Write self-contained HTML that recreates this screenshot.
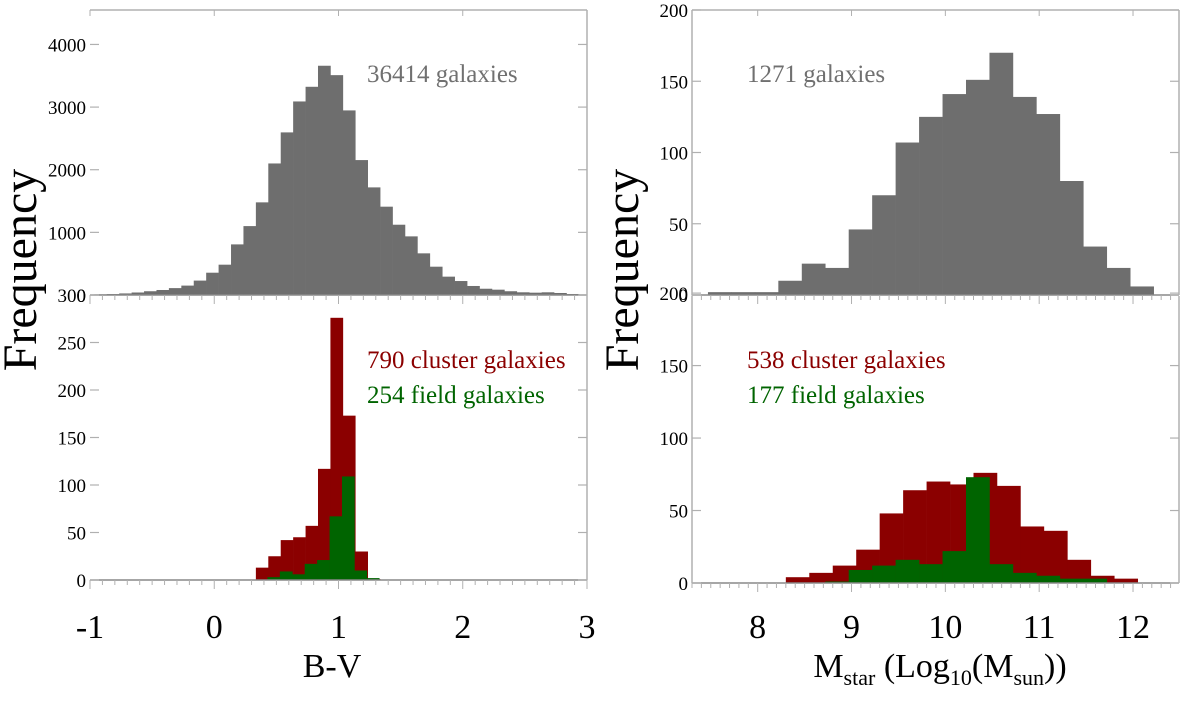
<!DOCTYPE html>
<html><head><meta charset="utf-8"><style>
body{margin:0;background:#fff;width:1200px;height:700px;overflow:hidden}
svg{font-family:"Liberation Serif",serif}
</style></head><body>
<svg id="fig" width="1200" height="700" xmlns="http://www.w3.org/2000/svg"></svg>
<script>
// Left: B-V histograms (bin width 0.1)
const bvAllStart = -0.965;
const bvAll = [10,15,25,40,60,80,110,150,230,356,484,808,1100,1479,2100,2596,3090,3324,3660,3510,2947,2154,1718,1410,1122,936,665,452,293,223,144,100,85,60,43,37,43,32,16,5];
const bvClusterStart = 0.335;
const bvCluster = [13,25,42,45,57,117,276,173,30,1];
const bvFieldStart = 0.428;
const bvField = [3,9,6,17,21,67,109,10,2];
// Right: stellar mass histograms (bin width 0.25)
const mAllStart = 7.47;
const mAll = [2,2,2,10,22,19,46,70,107,125,141,151,170,139,127,80,34,19,6];
const mClusterStart = 8.30;
const mCluster = [4,7,12,23,48,64,70,68,76,67,39,36,16,5,3];
const mFieldStart = 8.72;
const mField = [1,9,12,16,13,22,73,13,7,5,3,3];
const leftTopTicks = [0,1000,2000,3000,4000];
const leftBotTicks = [0,50,100,150,200,250,300];
const rightTicks = [0,50,100,150,200];
const leftXTicks = [-1,0,1,2,3];
const rightXTicks = [8,9,10,11,12];

const svg = document.getElementById('fig');
const NS = 'http://www.w3.org/2000/svg';
function mk(tag, attrs, parent){const e=document.createElementNS(NS,tag);for(const k in attrs)e.setAttribute(k,attrs[k]);(parent||svg).appendChild(e);return e;}

const L = {x0:90,x1:587,vmin:-1,vmax:3};
const R = {x0:692,x1:1179,vmin:7.30,vmax:12.49};
function xs(ax,v){return ax.x0+(v-ax.vmin)/(ax.vmax-ax.vmin)*(ax.x1-ax.x0);}
function ysF(base,top,max){return v=>base-(v/max)*(base-top);}

const panels = [
 {name:'left-top',ax:L,base:295,top:10,max:4550,ticks:leftTopTicks,leftBorder:false},
 {name:'left-bottom',ax:L,base:580,top:295,max:300,ticks:leftBotTicks,leftBorder:false},
 {name:'right-top',ax:R,base:295,top:10,max:200,ticks:rightTicks,leftBorder:true},
 {name:'right-bottom',ax:R,base:583,top:296,max:198,ticks:rightTicks,leftBorder:true}
];
panels.forEach(p=>p.y=ysF(p.base,p.top,p.max));

function drawHist(p,start,width,vals,color,name){
  const g=mk('g',{});
  
  
  vals.forEach((v,i)=>{
    let a=xs(p.ax,start+i*width), b=xs(p.ax,start+(i+1)*width);
    a=Math.max(a,p.ax.x0); b=Math.min(b,p.ax.x1);
    if(b<=a) return;
    const r=mk('rect',{x:a,y:p.y(v),width:b-a+0.3,height:p.base-p.y(v),fill:color},g);
    
    
  });
}
drawHist(panels[0],bvAllStart,0.1,bvAll,'#6e6e6e','bv-all-histogram');
drawHist(panels[1],bvClusterStart,0.1,bvCluster,'#8b0000','bv-cluster-histogram');
drawHist(panels[1],bvFieldStart,0.1,bvField,'#006400','bv-field-histogram');
drawHist(panels[2],mAllStart,0.25,mAll,'#6e6e6e','mass-all-histogram');
drawHist(panels[3],mClusterStart,0.25,mCluster,'#8b0000','mass-cluster-histogram');
drawHist(panels[3],mFieldStart,0.25,mField,'#006400','mass-field-histogram');

const gc='#b0b0b0';
panels.forEach(p=>{
  const ax=p.ax;
  mk('line',{x1:ax.x0,y1:p.base,x2:ax.x1,y2:p.base,stroke:'#888','stroke-width':1.5});
  mk('line',{x1:ax.x1,y1:p.top,x2:ax.x1,y2:p.base,stroke:gc,'stroke-width':1.5});
  if(p.name.endsWith('top')) mk('line',{x1:ax.x0,y1:p.top,x2:ax.x1,y2:p.top,stroke:gc,'stroke-width':1.5});
  if(p.leftBorder) mk('line',{x1:ax.x0,y1:p.top,x2:ax.x0,y2:p.base,stroke:gc,'stroke-width':1.5});
  p.ticks.forEach(t=>{
    const y=p.y(t);
    mk('line',{x1:ax.x0,y1:y,x2:ax.x0+9,y2:y,stroke:gc,'stroke-width':1.2});
    mk('line',{x1:ax.x1-9,y1:y,x2:ax.x1,y2:y,stroke:gc,'stroke-width':1.2});
    const tx=mk('text',{x:ax.x0-4,y:y+7,'font-size':19,'text-anchor':'end',fill:'#000'});
    tx.textContent=t;
    
    
  });
  const step=0.1, majors=(ax===L?leftXTicks:rightXTicks);
  for(let v=Math.ceil(ax.vmin*10)/10; v<=ax.vmax+1e-9; v+=step){
    const x=xs(ax,v); const isMaj=majors.some(m=>Math.abs(m-v)<1e-6);
    mk('line',{x1:x,y1:p.base,x2:x,y2:p.base+(isMaj?9:5),stroke:gc,'stroke-width':1});
  }
  majors.forEach(m=>{const x=xs(ax,m); if(p.name.endsWith('top')) mk('line',{x1:x,y1:p.top,x2:x,y2:p.top+6,stroke:gc,'stroke-width':1});});
});

function xLabels(ax,ticks){ticks.forEach(t=>{const e=mk('text',{x:xs(ax,t),y:638,'font-size':34,'text-anchor':'middle'});e.textContent=t;
  
  });}
xLabels(L,leftXTicks); xLabels(R,rightXTicks);

function text(x,y,s,size,fill,name,anchor){const e=mk('text',{x:x,y:y,'font-size':size,fill:fill,'text-anchor':anchor||'start'});e.textContent=s;
  
  return e;}
text(367,82,'36414 galaxies',25,'#707070','annotation-total-bv');
text(367,368,'790 cluster galaxies',25,'#8b0000','annotation-cluster-bv');
text(367,403,'254 field galaxies',25,'#006400','annotation-field-bv');
text(747,82,'1271 galaxies',25,'#707070','annotation-total-mass');
text(747,368,'538 cluster galaxies',25,'#8b0000','annotation-cluster-mass');
text(747,403,'177 field galaxies',25,'#006400','annotation-field-mass');

const f1=text(0,0,'Frequency',48,'#000','y-axis-title-left','middle');f1.setAttribute('transform','translate(36,270) rotate(-90)');
const f2=text(0,0,'Frequency',48,'#000','y-axis-title-right','middle');f2.setAttribute('transform','translate(638,270) rotate(-90)');
text(332,677,'B-V',34,'#000','x-axis-title-left','middle');
const t=mk('text',{x:940,y:677,'font-size':34,'text-anchor':'middle'});


t.innerHTML='M<tspan font-size="22" dy="8">star</tspan><tspan dy="-8"> (Log</tspan><tspan font-size="22" dy="8">10</tspan><tspan dy="-8">(M</tspan><tspan font-size="22" dy="8">sun</tspan><tspan dy="-8">))</tspan>';
</script>
</body></html>
